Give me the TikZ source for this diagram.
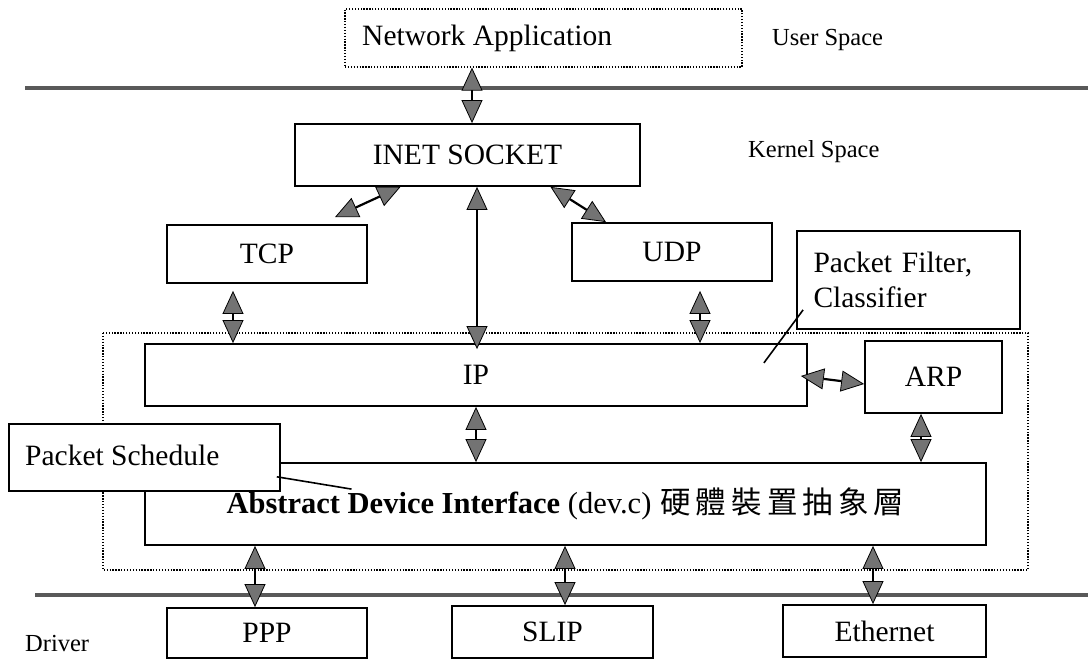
\documentclass[tikz,border=0pt]{standalone}
\usepackage{fontspec}
\setmainfont{Liberation Serif}
\newfontfamily\cjk{Noto Sans CJK TC}
\usetikzlibrary{arrows.meta}

\tikzset{
  layerbox/.style={draw, line width=1.8pt, fill=white, inner sep=0pt,
    font=\fontsize{29.5}{35}\selectfont},
  dotbox/.style={draw, line width=1.3pt, dash pattern=on 1.3pt off 1.6pt},
  sepline/.style={draw=black!65, line width=3.2pt},
  lbl/.style={anchor=west, inner sep=0pt, font=\fontsize{29.5}{35}\selectfont},
  side/.style={anchor=west, inner sep=0pt, font=\fontsize{24.5}{29}\selectfont},
  twoway/.style={line width=2.2pt,
    {Triangle[width=21pt,length=23pt,fill=black!55,line width=0.8pt]}-{Triangle[width=21pt,length=23pt,fill=black!55,line width=0.8pt]}},
  pointer/.style={line width=1.6pt}
}

\begin{document}
\begin{tikzpicture}[x=1pt,y=-1pt]
\useasboundingbox (0,0) rectangle (1088,660);

% user / kernel / driver borders
\draw[sepline] (25,88) -- (1088,88);
\draw[sepline] (35,595) -- (1088,595);
\draw[dotbox] (103,333) rectangle (1028,570);

% user space
\node[dotbox, minimum width=397pt, minimum height=58pt, inner sep=0pt] (app) at (543.5,38) {};
\node[lbl] at (362,38) {Network Application};
\node[side] (user) at (772,40) {User Space};

% kernel space
\node[side] (kernel) at (748,152) {Kernel Space};
\node[layerbox, minimum width=345pt, minimum height=62pt] (inet) at (467.5,155) {INET SOCKET};
\node[layerbox, minimum width=200pt, minimum height=58pt] (tcp) at (267,254) {TCP};
\node[layerbox, minimum width=200pt, minimum height=58pt] (udp) at (672,252) {UDP};
\node[layerbox, minimum width=223pt, minimum height=98pt, align=left,
  text width=190pt] (filter) at (908.5,280) {Packet Filter,\\Classifier};
\node[layerbox, minimum width=662pt, minimum height=62pt] (ip) at (476,375) {IP};
\node[layerbox, minimum width=137pt, minimum height=72pt] (arp) at (933.5,377) {ARP};
\node[layerbox, minimum width=841pt, minimum height=82pt,
  font=\fontsize{30.5}{36}\selectfont] (adi) at (565.5,504)
  {\textbf{Abstract Device Interface} (dev.c)\hspace{9pt}{\cjk 硬\,體\,裝\,置\,抽\,象\,層}};
\node[layerbox, minimum width=271pt, minimum height=67pt, anchor=north west] (sched) at (8,423) {};
\node[lbl] at (25,455) {Packet Schedule};

% drivers
\node[layerbox, minimum width=200pt, minimum height=50pt] (ppp) at (267,633) {PPP};
\node[layerbox, minimum width=201pt, minimum height=52pt] (slip) at (552.5,632) {SLIP};
\node[layerbox, minimum width=203pt, minimum height=52pt] (eth) at (884.5,631) {Ethernet};
\node[side] (driver) at (25,644) {Driver};

% data paths
\draw[twoway] ([xshift=-71.5pt]app.south) -- ([xshift=4.5pt]inet.north);
\draw[twoway] ([xshift=68pt,yshift=7pt]tcp.north) -- ([xshift=-67pt]inet.south);
\draw[twoway] ([xshift=83pt]inet.south) -- ([xshift=-66pt]udp.north);
\draw[twoway] ([xshift=9.5pt]inet.south) -- ([xshift=1pt,yshift=-6pt]ip.north);
\draw[twoway] ([xshift=-34pt,yshift=-7pt]tcp.south) -- ([xshift=-243pt]ip.north);
\draw[twoway] ([xshift=28pt,yshift=-9pt]udp.south) -- ([xshift=224pt]ip.north);
\draw[twoway] ([xshift=-7pt,yshift=-1pt]ip.east) -- ([yshift=-7pt]arp.west);
\draw[twoway] ([xshift=-12.5pt]arp.south) -- ([xshift=355.5pt]adi.north);
\draw[twoway] (ip.south) -- ([xshift=-89.5pt]adi.north);
\draw[twoway] ([xshift=-310.5pt]adi.south) -- ([xshift=-12pt]ppp.north);
\draw[twoway] ([xshift=-0.5pt]adi.south) -- ([xshift=12.5pt]slip.north);
\draw[twoway] ([xshift=307.5pt]adi.south) -- ([xshift=-11.5pt]eth.north);

% call-outs
\draw[pointer] ([xshift=7pt,yshift=20pt]filter.south west) -- ([xshift=-44pt,yshift=44pt]ip.south east);
\draw[pointer] ([xshift=-4pt,yshift=15pt]sched.south east) -- ([xshift=-214pt,yshift=-27pt]adi.north);
\end{tikzpicture}
\end{document}
